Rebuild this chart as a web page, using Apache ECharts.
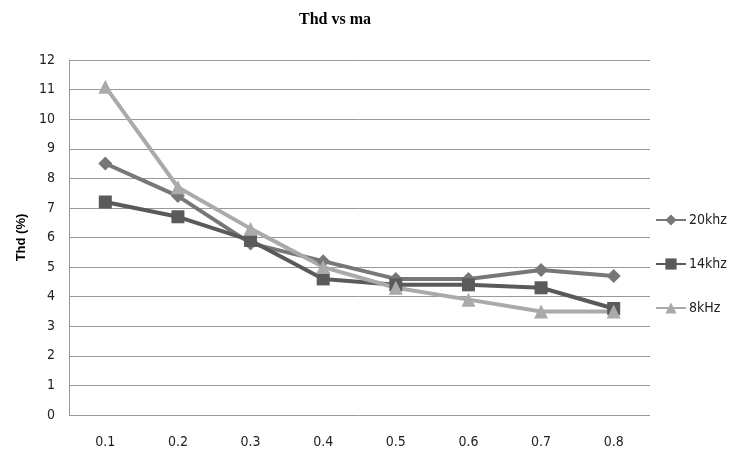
<!DOCTYPE html>
<html>
<head>
<meta charset="utf-8">
<script src="https://cdn.jsdelivr.net/npm/echarts@6/dist/echarts.min.js"></script>
<style>
  html, body { margin: 0; padding: 0; background: #fff; }
  #chart { width: 736px; height: 465px; }
</style>
</head>
<body>
<div id="chart"></div>
<script>
// data
const categories = ['0.1', '0.2', '0.3', '0.4', '0.5', '0.6', '0.7', '0.8']
const thd20k = [8.5, 7.4, 5.8, 5.2, 4.6, 4.6, 4.9, 4.7]
const thd14k = [7.2, 6.7, 5.9, 4.6, 4.4, 4.4, 4.3, 3.6]
const thd8k = [11.1, 7.7, 6.3, 5.0, 4.3, 3.9, 3.5, 3.5]

const labelFont = '"DejaVu Sans Condensed", "Liberation Sans Narrow", sans-serif'

const chart = echarts.init(document.getElementById('chart'))

const option = {
  animation: false,
  title: {
    text: 'Thd vs ma',
    left: 330,
    top: 7,
    textAlign: 'center',
    textStyle: {
      fontFamily: '"Liberation Serif", serif',
      fontSize: 16,
      fontWeight: 'bold',
      color: '#000'
    }
  },
  legend: {
    orient: 'vertical',
    left: 655,
    top: 213,
    itemGap: 30,
    itemWidth: 30,
    itemHeight: 14,
    padding: 0,
    textStyle: { fontFamily: labelFont, fontSize: 14, color: '#222', padding: [0, 0, 0, -2] },
    data: ['20khz', '14khz', '8kHz']
  },
  grid: {
    left: 69,
    right: 86,
    top: 60,
    bottom: 50
  },
  xAxis: {
    type: 'category',
    data: categories,
    boundaryGap: true,
    axisLine: { show: false },
    axisTick: { show: false },
    axisLabel: { margin: 20, fontFamily: labelFont, fontSize: 14, color: '#222' }
  },
  yAxis: {
    type: 'value',
    min: 0,
    max: 12,
    interval: 1,
    name: 'Thd (%)',
    nameLocation: 'middle',
    nameGap: 40,
    nameTextStyle: { fontFamily: 'Liberation Sans, sans-serif', fontSize: 13, fontWeight: 'bold', color: '#000' },
    axisLine: { show: true, lineStyle: { color: '#999', width: 1 } },
    axisTick: { show: false },
    splitLine: { lineStyle: { color: '#999', width: 1 } },
    axisLabel: { margin: 14, fontFamily: labelFont, fontSize: 14, color: '#222' }
  },
  series: [
    {
      name: '20khz',
      type: 'line',
      data: thd20k,
      symbol: 'diamond',
      symbolSize: 14,
      lineStyle: { width: 4, color: '#777' },
      itemStyle: { color: '#777' }
    },
    {
      name: '14khz',
      type: 'line',
      data: thd14k,
      symbol: 'rect',
      symbolSize: 13,
      lineStyle: { width: 4, color: '#5a5a5a' },
      itemStyle: { color: '#5a5a5a' }
    },
    {
      name: '8kHz',
      type: 'line',
      data: thd8k,
      symbol: 'triangle',
      symbolSize: 14,
      lineStyle: { width: 4, color: '#aaa' },
      itemStyle: { color: '#aaa' }
    }
  ]
}

chart.setOption(option)
</script>
</body>
</html>
